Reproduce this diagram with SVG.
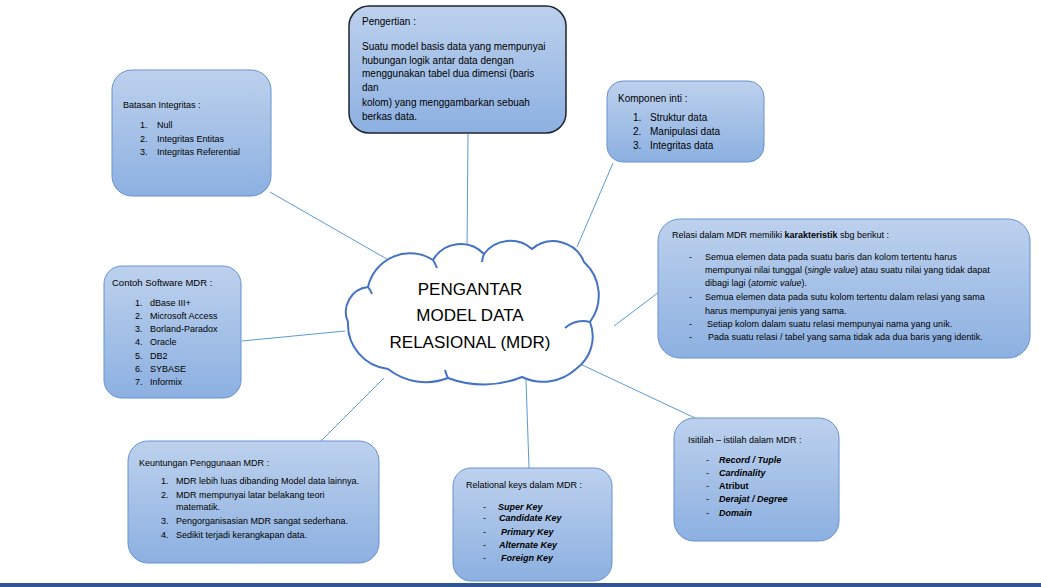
<svg xmlns="http://www.w3.org/2000/svg" width="1041" height="587" viewBox="0 0 1041 587">
<defs>
<linearGradient id="g" x1="0" y1="0" x2="0" y2="1">
<stop offset="0" stop-color="#bdd1ed"/>
<stop offset="1" stop-color="#8cb0e1"/>
</linearGradient>
<style>
.box{fill:url(#g);stroke:#6792cf;stroke-width:1}
.dark{stroke:#1e2430;stroke-width:1.5}
.con{stroke:#5b9bd5;stroke-width:1;fill:none}
text{font-family:"Liberation Sans",Arial,sans-serif;fill:#000}
.t10{font-size:10px}
.t9{font-size:9px}
.t95{font-size:9.5px}
.bi{font-weight:bold;font-style:italic}
.b{font-weight:bold}
.big{font-size:17px;text-anchor:middle}
</style>
</defs>
<rect x="0" y="0" width="1041" height="587" fill="#ffffff"/>
<rect x="0" y="583" width="1041" height="4" fill="#2f5597"/>
<g id="connectors">
<line class="con" x1="468" y1="134" x2="467" y2="252"/>
<line class="con" x1="270" y1="192" x2="392" y2="262"/>
<line class="con" x1="613" y1="163" x2="577" y2="247"/>
<line class="con" x1="614" y1="326" x2="659" y2="292"/>
<line class="con" x1="242" y1="341" x2="345" y2="331"/>
<line class="con" x1="320" y1="442" x2="384" y2="378"/>
<line class="con" x1="529" y1="468" x2="526" y2="380"/>
<line class="con" x1="578" y1="363" x2="695" y2="418"/>
</g>
<g id="cloud">
<path d="M348,322 A25,25 0 0 1 368,287 A43,43 0 0 1 433,260 A32,32 0 0 1 484,254 A33,33 0 0 1 532,249 A33,33 0 0 1 584,262 A45,45 0 0 1 590,322 A40,40 0 0 1 576,369 A49,49 0 0 1 522,377 A101,101 0 0 1 448,378 A61,61 0 0 1 388,369 A45,45 0 0 1 348,322 Z" fill="#ffffff" stroke="#4472c4" stroke-width="2"/>
<path d="M433,260 A40,40 0 0 1 437,268 M484,254 A30,30 0 0 0 482,262 M565,328 A28,28 0 0 1 590,322 M448,378 A40,40 0 0 1 445,370 M368,287 A30,30 0 0 1 372,294" fill="none" stroke="#4472c4" stroke-width="2"/>
<text class="big" x="470" y="295">PENGANTAR</text>
<text class="big" x="470" y="321">MODEL DATA</text>
<text class="big" x="470" y="348">RELASIONAL (MDR)</text>
</g>
<g id="pengertian">
<rect class="box dark" x="349" y="6" width="217" height="127" rx="20"/>
<text class="t10" x="362" y="25">Pengertian :</text>
<text class="t10" x="362" y="49.5">Suatu model basis data yang mempunyai</text>
<text class="t10" x="362" y="63.5">hubungan logik antar data dengan</text>
<text class="t10" x="362" y="77">menggunakan tabel dua dimensi (baris</text>
<text class="t10" x="362" y="91">dan</text>
<text class="t10" x="362" y="106">kolom) yang menggambarkan sebuah</text>
<text class="t10" x="362" y="120">berkas data.</text>
</g>
<g id="batasan">
<rect class="box" x="112" y="70" width="159" height="126" rx="20"/>
<text class="t9" x="123" y="108">Batasan Integritas :</text>
<text class="t9" x="140" y="128">1.</text><text class="t9" x="157" y="128">Null</text>
<text class="t9" x="140" y="141.5">2.</text><text class="t9" x="157" y="141.5">Integritas Entitas</text>
<text class="t9" x="140" y="155">3.</text><text class="t9" x="157" y="155">Integritas Referential</text>
</g>
<g id="komponen">
<rect class="box" x="607" y="81" width="157" height="81" rx="16"/>
<text class="t10" x="618" y="102">Komponen inti :</text>
<text class="t10" x="633" y="121">1.</text><text class="t10" x="650" y="121">Struktur data</text>
<text class="t10" x="633" y="135">2.</text><text class="t10" x="650" y="135">Manipulasi data</text>
<text class="t10" x="633" y="149">3.</text><text class="t10" x="650" y="149">Integritas data</text>
</g>
<g id="relasi">
<rect class="box" x="658" y="219" width="372" height="139" rx="22"/>
<text class="t9" x="672" y="238">Relasi dalam MDR memiliki <tspan class="b">karakteristik</tspan> sbg berikut :</text>
<text class="t9" x="689" y="259.5">-</text><text class="t9" x="705" y="259.5">Semua elemen data pada suatu baris dan kolom tertentu harus</text>
<text class="t9" x="705" y="273">mempunyai nilai tunggal (<tspan font-style="italic">single value</tspan>) atau suatu nilai yang tidak dapat</text>
<text class="t9" x="705" y="286">dibagi lagi (<tspan font-style="italic">atomic value</tspan>).</text>
<text class="t9" x="689" y="300">-</text><text class="t9" x="705" y="300">Semua elemen data pada sutu kolom tertentu dalam relasi yang sama</text>
<text class="t9" x="705" y="313.5">harus mempunyai jenis yang sama.</text>
<text class="t9" x="689" y="327">-</text><text class="t9" x="707" y="327">Setiap kolom dalam suatu relasi mempunyai nama yang unik.</text>
<text class="t9" x="689" y="340">-</text><text class="t9" x="708" y="340">Pada suatu relasi / tabel yang sama tidak ada dua baris yang identik.</text>
</g>
<g id="contoh">
<rect class="box" x="104" y="266" width="137" height="132" rx="18"/>
<text class="t95" x="112" y="286">Contoh Software MDR :</text>
<text class="t9" x="135" y="305.5">1.</text><text class="t9" x="150" y="305.5">dBase III+</text>
<text class="t9" x="135" y="318.5">2.</text><text class="t9" x="150" y="318.5">Microsoft Access</text>
<text class="t9" x="135" y="332">3.</text><text class="t9" x="150" y="332">Borland-Paradox</text>
<text class="t9" x="135" y="345">4.</text><text class="t9" x="150" y="345">Oracle</text>
<text class="t9" x="135" y="359">5.</text><text class="t9" x="150" y="359">DB2</text>
<text class="t9" x="135" y="372">6.</text><text class="t9" x="150" y="372">SYBASE</text>
<text class="t9" x="135" y="385">7.</text><text class="t9" x="150" y="385">Informix</text>
</g>
<g id="keuntungan">
<rect class="box" x="128" y="441" width="251" height="122" rx="20"/>
<text class="t9" x="139" y="466">Keuntungan Penggunaan MDR :</text>
<text class="t9" x="161" y="484">1.</text><text class="t9" x="176" y="484">MDR lebih luas dibanding Model data lainnya.</text>
<text class="t9" x="161" y="497.5">2.</text><text class="t9" x="176" y="497.5">MDR mempunyai latar belakang teori</text>
<text class="t9" x="176" y="510">matematik.</text>
<text class="t9" x="161" y="524">3.</text><text class="t9" x="176" y="524">Pengorganisasian MDR sangat sederhana.</text>
<text class="t9" x="161" y="537.5">4.</text><text class="t9" x="176" y="537.5">Sedikit terjadi kerangkapan data.</text>
</g>
<g id="relational-keys">
<rect class="box" x="453" y="468" width="159" height="113" rx="18"/>
<text class="t9" x="466" y="487.5">Relational keys dalam MDR :</text>
<text class="t9" x="483" y="509.5">-</text><text class="t9 bi" x="498" y="509.5">Super Key</text>
<text class="t9" x="483" y="521">-</text><text class="t9 bi" x="499" y="521">Candidate Key</text>
<text class="t9" x="483" y="534.5">-</text><text class="t9 bi" x="501" y="534.5">Primary Key</text>
<text class="t9" x="483" y="547.5">-</text><text class="t9 bi" x="499" y="547.5">Alternate Key</text>
<text class="t9" x="483" y="560.5">-</text><text class="t9 bi" x="501" y="560.5">Foreign Key</text>
</g>
<g id="istilah">
<rect class="box" x="674" y="418" width="165" height="123" rx="20"/>
<text class="t9" x="688" y="442.5">Isitilah – istilah dalam MDR :</text>
<text class="t9" x="706" y="463">-</text><text class="t9 bi" x="719" y="463">Record / Tuple</text>
<text class="t9" x="706" y="476">-</text><text class="t9 bi" x="719" y="476">Cardinality</text>
<text class="t9" x="706" y="489">-</text><text class="t9 b" x="719" y="489">Atribut</text>
<text class="t9" x="706" y="502">-</text><text class="t9 bi" x="719" y="502">Derajat / Degree</text>
<text class="t9" x="706" y="515.5">-</text><text class="t9 bi" x="719" y="515.5">Domain</text>
</g>
</svg>
